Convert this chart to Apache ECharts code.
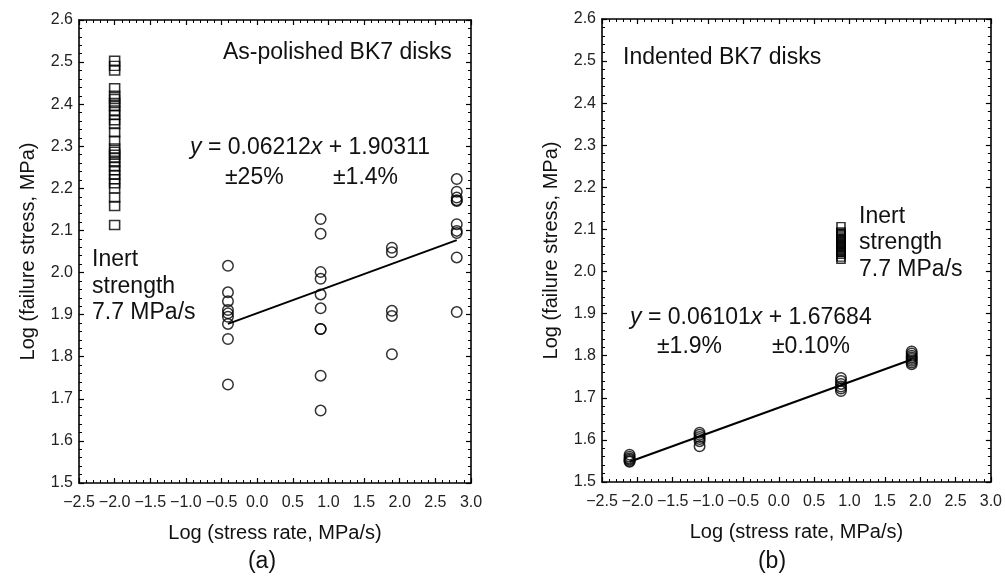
<!DOCTYPE html>
<html>
<head>
<meta charset="utf-8">
<script src="https://cdn.jsdelivr.net/npm/echarts@6/dist/echarts.min.js"></script>
<style>
    html, body { margin: 0; padding: 0; background: #fff; }
    #main { width: 1005px; height: 580px; }
</style>
</head>
<body>
<div id="main"></div>
<script type="text/javascript">
    // (a) as-polished: stress-rate columns and failure stress per column
    var polishedX = [-0.41, 0.89, 1.89, 2.80];
    var polishedY = [
        [2.016, 1.953, 1.932, 1.911, 1.903, 1.895, 1.878, 1.842, 1.734],
        [2.127, 2.092, 2.001, 1.985, 1.948, 1.915, 1.866, 1.866, 1.755, 1.672],
        [2.059, 2.048, 1.909, 1.897, 1.806],
        [2.222, 2.192, 2.178, 2.172, 2.170, 2.115, 2.099, 2.094, 2.036, 1.906]
    ];
    var polishedInertX = -2.0;
    var polishedInertY = [2.503, 2.491, 2.480, 2.438, 2.420, 2.412, 2.403, 2.395, 2.385, 2.375,
        2.362, 2.353, 2.333, 2.313, 2.295, 2.287, 2.280, 2.272, 2.262, 2.252, 2.243, 2.232,
        2.222, 2.212, 2.200, 2.178, 2.158, 2.113];
    var polishedFit = [[-0.41, 1.878], [2.80, 2.077]];

    // (b) indented
    var indentedX = [-2.11, -1.12, 0.88, 1.88];
    var indentedY = [
        [1.565, 1.560, 1.556, 1.553, 1.550, 1.548],
        [1.617, 1.612, 1.607, 1.602, 1.597, 1.585],
        [1.747, 1.740, 1.733, 1.727, 1.722, 1.716],
        [1.810, 1.805, 1.800, 1.796, 1.792, 1.788, 1.784, 1.780]
    ];
    var indentedInertX = 0.88;
    var indentedInertY = [2.108, 2.095, 2.092, 2.089, 2.086, 2.083, 2.080, 2.077, 2.074, 2.071,
        2.068, 2.065, 2.062, 2.059, 2.056, 2.053, 2.050, 2.047, 2.044, 2.040, 2.033, 2.028];
    var indentedFit = [[-2.11, 1.548], [1.88, 1.791]];

    var font = 'Liberation Sans, Arial, sans-serif';

    function pairs(xs, ys) {
        var out = [];
        xs.forEach(function (x, i) {
            ys[i].forEach(function (y) { out.push([x, y]); });
        });
        return out;
    }
    function column(x, ys) {
        return ys.map(function (y) { return [x, y]; });
    }

    function xAx(grid, pos) {
        return {
            type: 'value', gridIndex: grid, position: pos,
            min: -2.5, max: 3.0, interval: 0.5,
            name: pos === 'bottom' ? 'Log (stress rate, MPa/s)' : '',
            nameLocation: 'middle', nameGap: 40,
            nameTextStyle: { fontFamily: font, fontSize: 20, color: '#111' },
            axisLine: { onZero: false, lineStyle: { color: '#000', width: 1.6 } },
            axisTick: { inside: true, length: 5, lineStyle: { color: '#000', width: 1.2 } },
            minorTick: { show: true, splitNumber: 5, length: 3, lineStyle: { color: '#000', width: 1 } },
            splitLine: { show: false },
            axisLabel: {
                show: pos === 'bottom', margin: 12, fontFamily: font, fontSize: 16, color: '#222',
                formatter: function (v) { return v.toFixed(1).replace('-', '\u2212'); }
            }
        };
    }
    function yAx(grid, pos) {
        return {
            type: 'value', gridIndex: grid, position: pos,
            min: 1.5, max: 2.6, interval: 0.1,
            name: pos === 'left' ? 'Log (failure stress, MPa)' : '',
            nameLocation: 'middle', nameGap: 41, nameRotate: 90,
            nameTextStyle: { fontFamily: font, fontSize: 20, color: '#111' },
            axisLine: { onZero: false, lineStyle: { color: '#000', width: 1.6 } },
            axisTick: { inside: true, length: 5, lineStyle: { color: '#000', width: 1.2 } },
            minorTick: { show: true, splitNumber: 5, length: 3, lineStyle: { color: '#000', width: 1 } },
            splitLine: { show: false },
            axisLabel: {
                show: pos === 'left', margin: 6, fontFamily: font, fontSize: 16, color: '#222',
                formatter: function (v) { return v.toFixed(1); }
            }
        };
    }

    var circle = {
        type: 'scatter', symbol: 'circle', symbolSize: 10, silent: true,
        itemStyle: { color: 'rgba(0,0,0,0)', borderColor: '#000', borderWidth: 1.5 }
    };
    function scatter(xi, yi, data, sym, size) {
        return Object.assign({}, circle, {
            xAxisIndex: xi, yAxisIndex: yi, data: data,
            symbol: sym || 'circle', symbolSize: size || 10.5
        });
    }
    function fit(xi, yi, data) {
        return {
            type: 'line', xAxisIndex: xi, yAxisIndex: yi, data: data, silent: true,
            symbol: 'none', lineStyle: { color: '#000', width: 2 }
        };
    }
    function txt(x, y, s, size, align) {
        return {
            type: 'text', x: x, y: y, silent: true,
            style: {
                text: s, fontFamily: font, fontSize: size || 23, fill: '#111',
                textAlign: align || 'left', textVerticalAlign: 'middle',
                rich: { i: { fontStyle: 'italic', fontFamily: font, fontSize: size || 23, fill: '#111' } }
            }
        };
    }

    var myChart = echarts.init(document.getElementById('main'));
    myChart.setOption({
        animation: false,
        backgroundColor: '#fff',
        grid: [
            { left: 79, top: 20, width: 392, height: 463 },
            { left: 602, top: 19, width: 390, height: 463 }
        ],
        xAxis: [xAx(0, 'bottom'), xAx(0, 'top'), xAx(1, 'bottom'), xAx(1, 'top')],
        yAxis: [yAx(0, 'left'), yAx(0, 'right'), yAx(1, 'left'), yAx(1, 'right')],
        series: [
            scatter(0, 0, pairs(polishedX, polishedY)),
            scatter(0, 0, column(polishedInertX, polishedInertY), 'rect', [10, 9]),
            fit(0, 0, polishedFit),
            scatter(2, 2, pairs(indentedX, indentedY)),
            scatter(2, 2, column(indentedInertX, indentedInertY), 'rect', [8, 7]),
            fit(2, 2, indentedFit)
        ],
        graphic: [
            txt(223, 53, 'As-polished BK7 disks'),
            txt(190, 148, '{i|y} = 0.06212{i|x} + 1.90311'),
            txt(225, 178, '\u00b125%'),
            txt(333, 178, '\u00b11.4%'),
            txt(92, 260, 'Inert'),
            txt(92, 287, 'strength'),
            txt(92, 313, '7.7 MPa/s'),
            txt(262, 562, '(a)', 23, 'center'),

            txt(623, 58, 'Indented BK7 disks'),
            txt(630, 318, '{i|y} = 0.06101{i|x} + 1.67684'),
            txt(657, 347, '\u00b11.9%'),
            txt(772, 347, '\u00b10.10%'),
            txt(859, 217, 'Inert'),
            txt(859, 243, 'strength'),
            txt(859, 270, '7.7 MPa/s'),
            txt(772, 562, '(b)', 23, 'center')
        ]
    });
</script>
</body>
</html>
